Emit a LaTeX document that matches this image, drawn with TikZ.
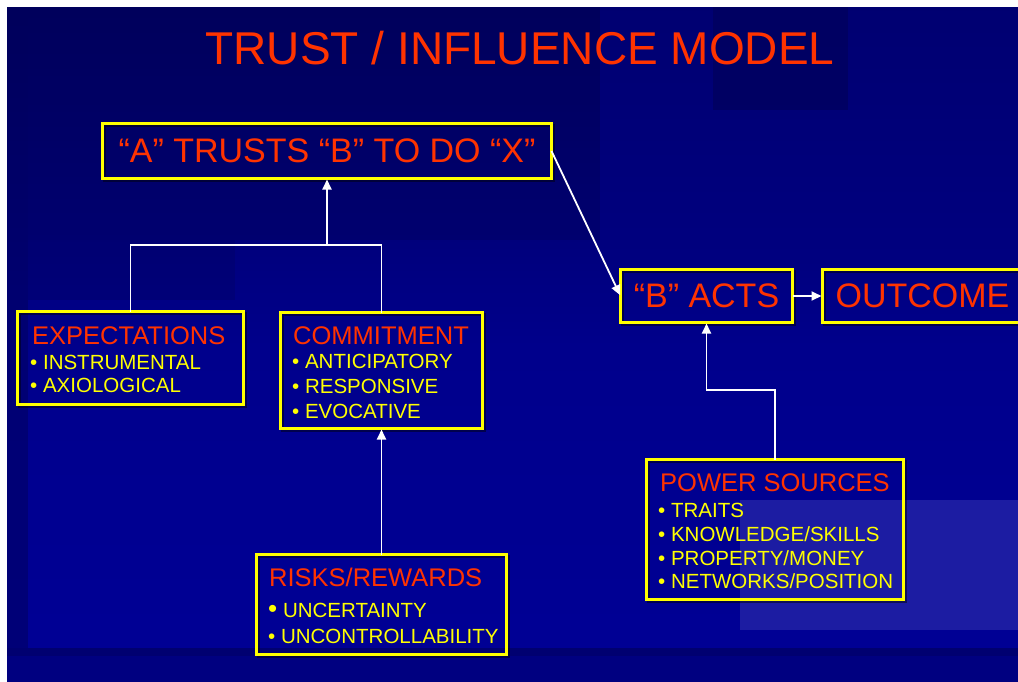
\documentclass[tikz,border=0pt]{standalone}
\usepackage{fontspec}
\setmainfont{Liberation Sans}
\usetikzlibrary{arrows.meta,calc}
\definecolor{bgtop}{RGB}{0,0,92}
\definecolor{bgmid}{RGB}{0,0,140}
\definecolor{bgbot}{RGB}{0,0,150}
\definecolor{bgright}{RGB}{0,0,128}
\definecolor{bgpatch}{RGB}{28,28,162}
\definecolor{titlered}{RGB}{255,51,0}
\definecolor{boxyellow}{RGB}{255,255,0}
\tikzset{
  box/.style={draw=boxyellow, line width=3pt, inner sep=0pt, outer sep=0pt, anchor=north west,
    preaction={draw=black, opacity=.45, transform canvas={shift={(1.5pt,-1.5pt)}}}},
  bigtxt/.style={text=titlered, font=\fontsize{34}{40}\selectfont},
  hdr/.style={anchor=base west, inner sep=0pt, text=titlered, font=\fontsize{25.5}{30}\selectfont},
  itm/.style={anchor=base west, inner sep=0pt, text=boxyellow, font=\fontsize{20.5}{24}\selectfont},
  conn/.style={draw=white, line width=1.8pt},
  arr/.style={conn, -{Triangle[length=10pt,width=9pt]}, shorten >=1pt}
}
\begin{document}
\begin{tikzpicture}[x=1pt,y=-1pt]
\useasboundingbox (0,0) rectangle (1018,681);
\fill[white] (0,0) rectangle (1030,700);
% background
\shade[top color=bgtop, bottom color=bgbot, middle color=bgmid] (7,7) rectangle (1030,700);
\fill[bgtop, opacity=.5] (7,7) rectangle (28,700);
\fill[bgtop, opacity=.4] (28,7) rectangle (600,240);
\fill[bgtop, opacity=.3] (28,240) rectangle (235,300);
\fill[bgright, opacity=.6] (600,7) rectangle (1030,260);
\fill[bgtop, opacity=.7] (713,7) rectangle (848,110);
\fill[bgpatch] (740,500) rectangle (1030,630);
\fill[bgmid!80!black] (7,648) rectangle (1030,656);
\fill[bgright] (7,656) rectangle (1030,700);

% title
\node[anchor=base, inner sep=0pt, text=titlered, font=\fontsize{46}{52}\selectfont] (title) at (520,64) {TRUST / INFLUENCE MODEL};

% boxes
\node[box, minimum width=449pt, minimum height=55pt, bigtxt] (A) at (102.5,123.5) {“A” TRUSTS “B” TO DO “X”};
\node[box, minimum width=172pt, minimum height=53pt, bigtxt] (bacts) at (620.5,269.5) {“B” ACTS};
\node[box, minimum width=200pt, minimum height=53pt, bigtxt] (out) at (822.5,269.5) {OUTCOME};
\node[box, minimum width=226pt, minimum height=93pt] (exp) at (17.5,311.5) {};
\node[box, minimum width=202pt, minimum height=116pt] (com) at (280.5,312.5) {};
\node[box, minimum width=250pt, minimum height=100pt] (risk) at (256.5,554.5) {};
\node[box, minimum width=257pt, minimum height=140pt] (pow) at (646.5,459.5) {};

% texts
\node[hdr] (expH) at (32,344) {EXPECTATIONS};
\node[itm] (exp1) at (30,369) {• INSTRUMENTAL};
\node[itm] (exp2) at (30,392) {• AXIOLOGICAL};

\node[hdr] (comH) at (293,344) {COMMITMENT};
\node[itm] (com1) at (292,368) {• ANTICIPATORY};
\node[itm] (com2) at (292,393) {• RESPONSIVE};
\node[itm] (com3) at (292,418) {• EVOCATIVE};

\node[hdr] (riskH) at (269,586) {RISKS/REWARDS};
\node[itm] (risk1) at (268,617) {{\fontsize{26}{26}\selectfont •} UNCERTAINTY};
\node[itm] (risk2) at (268,643) {• UNCONTROLLABILITY};

\node[hdr] (powH) at (660,491) {POWER SOURCES};
\node[itm] (pow1) at (658,517) {• TRAITS};
\node[itm] (pow2) at (658,541) {• KNOWLEDGE/SKILLS};
\node[itm] (pow3) at (658,565) {• PROPERTY/MONEY};
\node[itm] (pow4) at (658,588) {• NETWORKS/POSITION};

% connectors
\coordinate (j) at (327,245);
\coordinate (pk) at (706.5,390);
\draw[conn] (exp.north) |- (com.north |- j) -- (com.north);
\draw[arr] (j) -- (A.south -| j);
\draw[arr] (A.east) -- (bacts.west);
\draw[arr] (bacts.east) -- (out.west);
\draw[arr] (pow.north) |- (pk) -- (bacts.south);
\draw[arr] (risk.north) -- (com.south);
\end{tikzpicture}
\end{document}
